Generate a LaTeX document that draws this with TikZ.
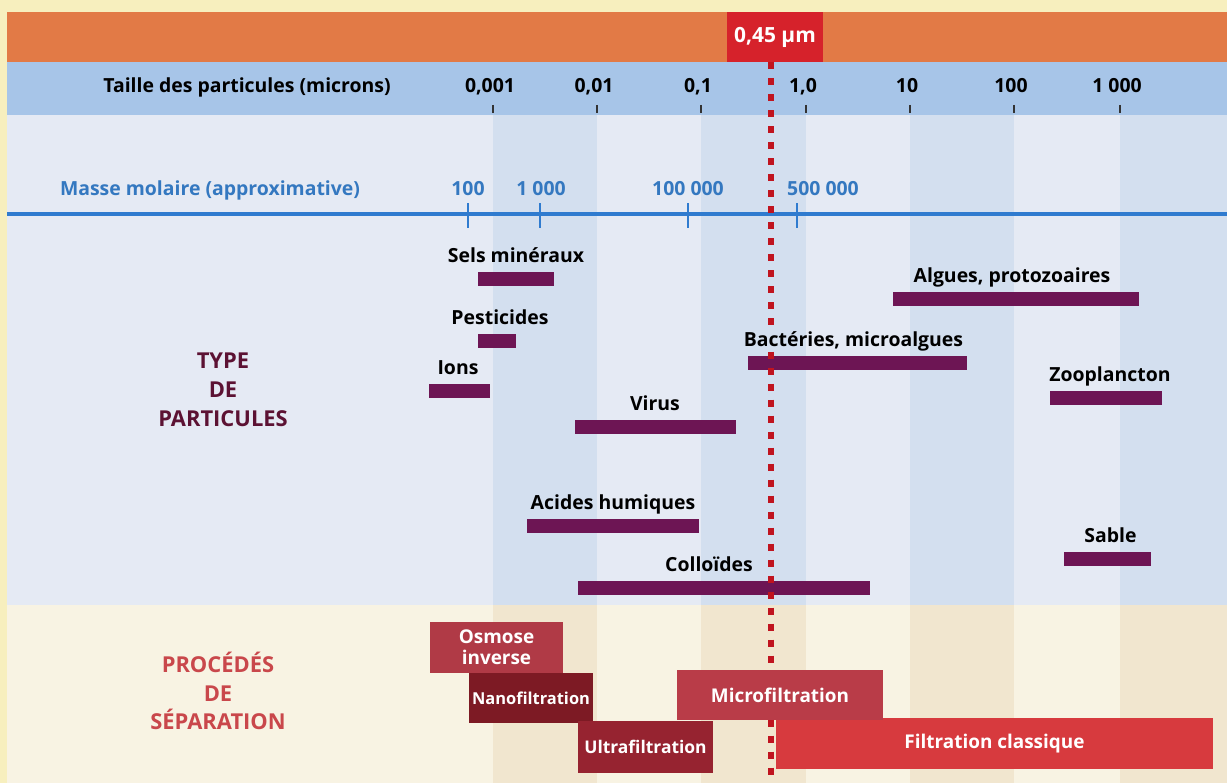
\documentclass[tikz,border=0pt]{standalone}
\usepackage{fontspec}
\setmainfont{Open Sans}
\usetikzlibrary{positioning}

\definecolor{jaunepale}{HTML}{F7EFBE}
\definecolor{orangebar}{HTML}{E27A46}
\definecolor{rougeseuil}{HTML}{D6222B}
\definecolor{rougepoint}{HTML}{C0141F}
\definecolor{bleubande}{HTML}{A7C5E8}
\definecolor{bleuclair}{HTML}{E5EAF4}
\definecolor{bleufonce}{HTML}{D3DFEF}
\definecolor{beigeclair}{HTML}{F8F3E3}
\definecolor{beigefonce}{HTML}{F1E6CF}
\definecolor{bleuaxe}{HTML}{2F7BCF}
\definecolor{bleutexte}{HTML}{3478C0}
\definecolor{barreviolet}{HTML}{6D1554}
\definecolor{bordeaux}{HTML}{5C1233}
\definecolor{rougetitre}{HTML}{C9474B}
\definecolor{osmosecol}{HTML}{B03A46}
\definecolor{nanocol}{HTML}{7D1A24}
\definecolor{ultracol}{HTML}{962330}
\definecolor{microcol}{HTML}{B93C48}
\definecolor{classcol}{HTML}{D73A3E}

\tikzset{
  etiq/.style={font=\bfseries\fontsize{19.5}{22}\selectfont, inner sep=0pt, anchor=base},
  barre/.style={fill=barreviolet, minimum height=14bp, inner sep=0pt},
  procede/.style={text=white, font=\bfseries\fontsize{19}{21}\selectfont,
    inner sep=0pt, minimum height=50bp, align=center},
  titre/.style={font=\bfseries\fontsize{22}{29}\selectfont, align=center},
  graduation/.style={line width=1.2bp, black!80},
  pointille/.style={rougepoint, line width=6bp, dash pattern=on 7bp off 9bp},
}

\begin{document}
\begin{tikzpicture}[x=1bp, y=-1bp]
  \useasboundingbox (0,0) rectangle (1227,783);
  % fonds
  \fill[jaunepale] (0,0) rectangle (1227,783);
  \fill[orangebar] (7,12) rectangle (1227,62);
  \fill[bleubande] (7,62) rectangle (1227,115);
  \fill[bleuclair] (7,115) rectangle (1227,605);
  \fill[beigeclair] (7,605) rectangle (1227,783);
  \foreach \a/\b in {493/597,701/806,910/1014,1120/1227}{
    \fill[bleufonce] (\a,115) rectangle (\b,605);
    \fill[beigefonce] (\a,605) rectangle (\b,783);
  }

  % echelle des tailles
  \node[etiq] (taille) at (247,93) {Taille des particules (microns)};
  \foreach \x/\t [count=\i] in {493/{0,001},597/{0,01},701/{0,1},806/{1,0},910/10,1014/100,1120/{1 000}}{
    \node[etiq] (d\i) at (\x-3,93) {\t};
    \draw[graduation] (\x,105) -- (\x,113);
  }

  % masse molaire
  \node[etiq, text=bleutexte] (masse) at (210,195) {Masse molaire (approximative)};
  \draw[bleuaxe, line width=4bp] (7,214) -- (1227,214);
  \foreach \x/\lx/\t [count=\i] in {468/468/100,540/541/{1 000},688/688/{100 000},797/823/{500 000}}{
    \node[etiq, text=bleutexte] (m\i) at (\lx,195) {\t};
    \draw[bleuaxe, line width=1.5bp] (\x,203) -- (\x,228);
  }

  % type de particules
  \node[titre, text=bordeaux] (types) at (223,390) {TYPE\\DE\\PARTICULES};

  \node[barre, minimum width=76bp] (sels) at (516,279) {};
  \node[barre, minimum width=38bp] (pest) at (497,341) {};
  \node[barre, minimum width=61bp] (ions) at (459,390.5) {};
  \node[barre, minimum width=161bp] (virus) at (655,427) {};
  \node[barre, minimum width=172bp] (acides) at (613,525.5) {};
  \node[barre, minimum width=292bp] (coll) at (724,587.5) {};
  \node[barre, minimum width=246bp] (algues) at (1016,299) {};
  \node[barre, minimum width=219bp] (bact) at (857.5,363) {};
  \node[barre, minimum width=112bp] (zoo) at (1106,397.5) {};
  \node[barre, minimum width=87bp] (sable) at (1107.5,559) {};

  \node[etiq] (l-sels) at ([yshift=9bp]sels.north) {Sels minéraux};
  \node[etiq] (l-pest) at ([xshift=3bp,yshift=9bp]pest.north) {Pesticides};
  \node[etiq] (l-ions) at ([xshift=-1bp,yshift=9bp]ions.north) {Ions};
  \node[etiq] (l-virus) at ([yshift=9bp]virus.north) {Virus};
  \node[etiq] (l-acides) at ([yshift=9bp]acides.north) {Acides humiques};
  \node[etiq] (l-coll) at ([xshift=-15bp,yshift=9bp]coll.north) {Colloïdes};
  \node[etiq] (l-algues) at ([xshift=-4bp,yshift=9bp]algues.north) {Algues, protozoaires};
  \node[etiq] (l-bact) at ([xshift=-4bp,yshift=9bp]bact.north) {Bactéries, microalgues};
  \node[etiq] (l-zoo) at ([xshift=4bp,yshift=9bp]zoo.north) {Zooplancton};
  \node[etiq] (l-sable) at ([xshift=3bp,yshift=9bp]sable.north) {Sable};

  % seuil 0,45
  \node[fill=rougeseuil, text=white, font=\bfseries\fontsize{21}{24}\selectfont,
    minimum width=96bp, minimum height=50bp, inner sep=0pt] (seuil) at (775,37) {0,45 µm};
  \coordinate (haut) at (771,62);
  \coordinate (bas) at (771,783);
  \draw[pointille] (haut) -- (haut |- l-bact.north) (haut |- l-bact.south) -- (bas);

  % procedes de separation
  \node[titre, text=rougetitre] (procedes) at (218,691) {PROCÉDÉS\\DE\\SÉPARATION};

  \node[procede, fill=osmosecol, minimum width=133bp, minimum height=51bp] (osmose) at (496.5,647.5) {Osmose\\inverse};
  \node[procede, fill=nanocol, minimum width=124bp, font=\bfseries\fontsize{16.5}{20}\selectfont] (nano) at (531,698) {Nanofiltration};
  \node[procede, fill=ultracol, minimum width=135bp, minimum height=52bp, font=\bfseries\fontsize{17.5}{20}\selectfont] (ultra) at (645.5,747) {Ultrafiltration};
  \node[procede, fill=classcol, minimum width=437bp, minimum height=51bp] (classique) at (994.5,743.5) {Filtration classique};
  \node[procede, fill=microcol, minimum width=206bp] (micro) at (780,695) {Microfiltration};
\end{tikzpicture}
\end{document}
